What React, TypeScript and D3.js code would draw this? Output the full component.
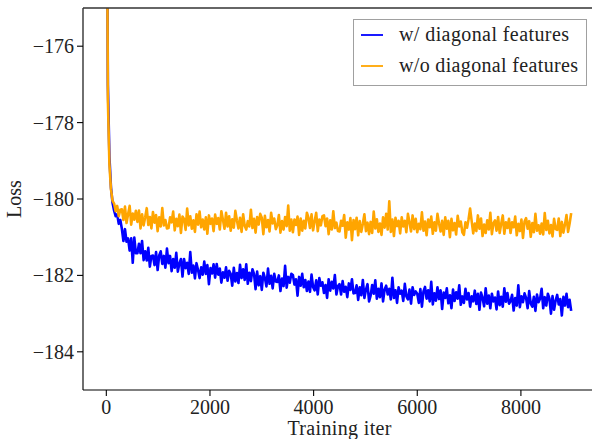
import React from "react";
import * as d3 from "d3";

// loss logged every ITER_STEP training iterations
const ITER_STEP = 30;

const lossWithDiag = [
  -168.0, -177.0, -178.9, -179.7, -180.1, -180.3, -180.45, -180.4, -180.65, -180.55,
  -180.78, -181.1, -180.79, -181.12, -181.03, -181.35, -181.03, -181.67, -181.01, -181.42,
  -181.42, -181.17, -181.42, -181.1, -181.6, -181.37, -181.61, -181.28, -181.77, -181.49,
  -181.48, -181.73, -181.39, -181.86, -181.48, -181.37, -181.7, -181.49, -181.8, -181.3,
  -181.68, -181.49, -181.89, -181.57, -181.8, -181.41, -181.9, -181.69, -181.57, -182.03,
  -181.57, -181.81, -181.67, -181.96, -181.39, -181.93, -181.74, -182.08, -181.68, -181.86,
  -182.07, -181.79, -181.98, -181.64, -181.96, -181.73, -182.23, -181.81, -181.95, -181.71,
  -182.06, -181.7, -181.98, -181.82, -182.19, -181.92, -182.06, -181.79, -182.14, -181.88,
  -181.96, -182.27, -181.8, -182.16, -181.94, -182.2, -181.72, -182.07, -181.84, -182.12,
  -181.71, -182.22, -181.93, -182.15, -181.84, -181.96, -182.36, -181.9, -182.26, -182.02,
  -182.38, -181.93, -182.07, -182.29, -181.82, -182.22, -182.01, -182.34, -181.96, -182.16,
  -182.17, -182.0, -182.41, -182.08, -182.28, -181.75, -182.32, -182.04, -182.19, -181.96,
  -181.99, -182.24, -182.1, -182.53, -182.04, -182.27, -181.96, -182.31, -182.12, -182.41,
  -182.16, -182.43, -181.98, -182.31, -182.39, -182.13, -182.5, -182.07, -182.27, -182.18,
  -182.46, -182.25, -182.59, -182.1, -182.4, -182.17, -182.34, -181.99, -182.5, -182.28,
  -182.23, -182.5, -182.15, -182.43, -182.3, -182.57, -182.21, -182.38, -182.1, -182.47,
  -182.46, -182.26, -182.64, -182.31, -182.52, -182.12, -182.59, -182.37, -182.23, -182.68,
  -182.53, -182.25, -182.48, -182.13, -182.61, -182.35, -182.57, -182.21, -182.68, -182.37,
  -182.27, -182.5, -182.35, -182.63, -182.06, -182.59, -182.39, -182.72, -182.31, -182.48,
  -182.4, -182.67, -182.22, -182.55, -182.63, -182.37, -182.74, -182.31, -182.51, -182.42,
  -182.48, -182.72, -182.36, -182.82, -182.42, -182.3, -182.61, -182.39, -182.68, -182.17,
  -182.76, -182.47, -182.66, -182.31, -182.62, -182.39, -182.88, -182.45, -182.59, -182.34,
  -182.73, -182.52, -182.86, -182.37, -182.67, -182.44, -182.61, -182.26, -182.77, -182.55,
  -182.72, -182.35, -182.63, -182.46, -182.82, -182.55, -182.68, -182.4, -182.75, -182.48,
  -182.9, -182.45, -182.59, -182.81, -182.34, -182.74, -182.53, -182.86, -182.48, -182.68,
  -182.58, -182.89, -182.42, -182.78, -182.56, -182.82, -182.34, -182.69, -182.46, -182.74,
  -182.68, -182.51, -182.92, -182.59, -182.79, -182.26, -182.83, -182.55, -182.7, -182.47,
  -182.59, -182.86, -182.41, -182.74, -182.82, -182.56, -182.93, -182.5, -182.7, -182.61,
  -182.35, -182.86, -182.57, -182.79, -182.48, -182.6, -183.0, -182.54, -182.9, -182.66,
  -182.51, -182.76, -182.62, -183.05, -182.56, -182.79, -182.48, -182.83, -182.64, -182.93,
];

const lossWithoutDiag = [
  -168.0, -177.4, -179.1, -179.75, -180.05, -180.12, -180.32, -180.18, -180.45, -180.28,
  -180.27, -180.55, -180.2, -180.63, -180.4, -180.18, -180.67, -180.38, -180.54, -180.31,
  -180.6, -180.3, -180.77, -180.4, -180.69, -180.48, -180.24, -180.68, -180.47, -180.77,
  -180.34, -180.62, -180.42, -180.84, -180.48, -180.72, -180.24, -180.69, -180.55, -180.77,
  -180.76, -180.48, -180.61, -180.33, -180.82, -180.52, -180.71, -180.41, -180.89, -180.46,
  -180.52, -180.81, -180.25, -180.69, -180.45, -180.78, -180.56, -180.86, -180.4, -180.67,
  -180.33, -180.74, -180.54, -180.8, -180.48, -180.91, -180.43, -180.65, -180.51, -180.84,
  -180.41, -180.65, -180.5, -180.8, -180.32, -180.54, -180.78, -180.36, -180.72, -180.45,
  -180.83, -180.53, -180.75, -180.31, -180.56, -180.77, -180.49, -180.86, -180.4, -180.7,
  -180.8, -180.58, -180.72, -180.28, -180.76, -180.52, -180.88, -180.47, -180.67, -180.39,
  -180.49, -180.92, -180.44, -180.74, -180.55, -180.85, -180.36, -180.64, -180.51, -180.79,
  -180.69, -180.42, -180.88, -180.58, -180.8, -180.47, -180.71, -180.17, -180.83, -180.54,
  -180.87, -180.54, -180.68, -180.46, -180.94, -180.51, -180.83, -180.57, -180.77, -180.36,
  -180.49, -180.76, -180.4, -180.82, -180.58, -180.36, -180.84, -180.54, -180.69, -180.45,
  -180.43, -180.71, -180.51, -180.92, -180.56, -180.8, -180.32, -180.76, -180.62, -180.84,
  -180.85, -180.57, -180.7, -180.42, -181.01, -180.61, -180.8, -180.5, -181.08, -180.55,
  -180.79, -180.49, -180.95, -180.58, -180.86, -180.65, -180.4, -180.84, -180.62, -180.92,
  -180.6, -180.89, -180.33, -180.77, -180.53, -180.86, -180.64, -180.94, -180.48, -180.75,
  -180.39, -180.8, -180.06, -180.86, -180.54, -180.97, -180.49, -180.71, -180.57, -180.9,
  -180.48, -180.72, -180.57, -180.87, -180.39, -180.61, -180.85, -180.43, -180.79, -180.52,
  -180.87, -180.65, -180.79, -180.35, -180.83, -180.59, -180.95, -180.54, -180.74, -180.46,
  -180.91, -180.61, -180.83, -180.39, -180.64, -180.85, -180.57, -180.94, -180.48, -180.78,
  -180.57, -181.0, -180.52, -180.82, -180.63, -180.93, -180.44, -180.72, -180.59, -180.87,
  -180.94, -180.61, -180.75, -180.53, -180.25, -180.58, -180.9, -180.64, -180.84, -180.43,
  -180.78, -180.51, -180.97, -180.67, -180.89, -180.56, -180.8, -180.36, -180.92, -180.63,
  -180.56, -180.83, -180.47, -180.89, -180.65, -180.43, -180.91, -180.61, -180.76, -180.52,
  -180.89, -180.61, -180.74, -180.46, -180.95, -180.65, -180.84, -180.54, -181.02, -180.59,
  -180.5, -180.78, -180.58, -180.99, -180.63, -180.87, -180.39, -180.83, -180.69, -180.91,
  -180.64, -180.93, -180.37, -180.81, -180.57, -180.9, -180.68, -180.98, -180.52, -180.79,
  -180.81, -180.51, -180.97, -180.6, -180.88, -180.67, -180.42, -180.86, -180.64, -180.37,
];

const seriesNames = ["w/ diagonal features", "w/o diagonal features"];
const seriesColors = ["#0000ff", "#ffa500"];
const xTicks = [0, 2000, 4000, 6000, 8000];
const yTicks = [-184, -182, -180, -178, -176];

const W = 592;
const H = 439;
const plot = { left: 83, top: 8, right: 596, bottom: 390 };
const FONT = "Liberation Serif, DejaVu Serif, serif";
const textStyle = { fontFamily: FONT, fontSize: "20px" };

const fmt = (v: number) => (v < 0 ? "\u2212" : "") + Math.abs(v);

export default function App() {
  const x = d3.scaleLinear().domain([-450, 9449]).range([plot.left, plot.right]);
  const y = d3.scaleLinear().domain([-185, -175]).range([plot.bottom, plot.top]);

  const line = d3
    .line<number>()
    .x((_, i) => x(i * ITER_STEP))
    .y((d) => y(d));

  const series = [lossWithDiag, lossWithoutDiag];

  return (
    <svg
      width={W}
      height={H}
      style={{ position: "absolute", left: 0, top: 0, background: "#fff" }}
    >
      <defs>
        <clipPath id="plot-clip">
          <rect x={plot.left} y={plot.top} width={plot.right - plot.left} height={plot.bottom - plot.top} />
        </clipPath>
      </defs>

      <g clipPath="url(#plot-clip)">
        {series.map((s, i) => (
          <path key={i} d={line(s) || ""} fill="none" stroke={seriesColors[i]} strokeWidth={2.6} strokeLinejoin="round" />
        ))}
      </g>

      {/* spines */}
      <line x1={plot.left} x2={plot.left} y1={plot.top} y2={plot.bottom} stroke="#222" strokeWidth={1.3} />
      <line x1={plot.left} x2={plot.right} y1={plot.bottom} y2={plot.bottom} stroke="#000" strokeWidth={1.2} />
      <line x1={plot.left} x2={plot.right} y1={plot.top} y2={plot.top} stroke="#333" strokeWidth={1.3} />

      {/* y axis */}
      {yTicks.map((t) => (
        <g key={t}>
          <line x1={plot.left - 6} x2={plot.left} y1={y(t)} y2={y(t)} stroke="#000" strokeWidth={1.1} />
          <text x={74} y={y(t)} dy="0.35em" textAnchor="end" style={textStyle} fill="#222">
            {fmt(t)}
          </text>
        </g>
      ))}
      <text
        transform={`translate(21,${(plot.top + plot.bottom) / 2}) rotate(-90)`}
        textAnchor="middle"
        style={textStyle}
        fill="#222"
      >
        Loss
      </text>

      {/* x axis */}
      {xTicks.map((t) => (
        <g key={t}>
          <line x1={x(t)} x2={x(t)} y1={plot.bottom} y2={plot.bottom + 6} stroke="#000" strokeWidth={1.1} />
          <text x={x(t)} y={414} textAnchor="middle" style={textStyle} fill="#222">
            {t}
          </text>
        </g>
      ))}
      <text x={(plot.left + plot.right) / 2} y={435} textAnchor="middle" style={textStyle} fill="#222" textLength={104} lengthAdjust="spacing">
        Training iter
      </text>

      {/* legend */}
      <rect x={353.5} y={19.5} width={233} height={66} fill="#fff" stroke="#a0a0a0" strokeWidth={1} />
      {seriesNames.map((name, i) => (
        <g key={name}>
          <line x1={361} x2={383} y1={35 + i * 31} y2={35 + i * 31} stroke={seriesColors[i]} strokeWidth={1.8} />
          <text x={399} y={41 + i * 31} style={textStyle} fill="#222" textLength={i === 0 ? 170 : 179} lengthAdjust="spacing">
            {name}
          </text>
        </g>
      ))}
    </svg>
  );
}
